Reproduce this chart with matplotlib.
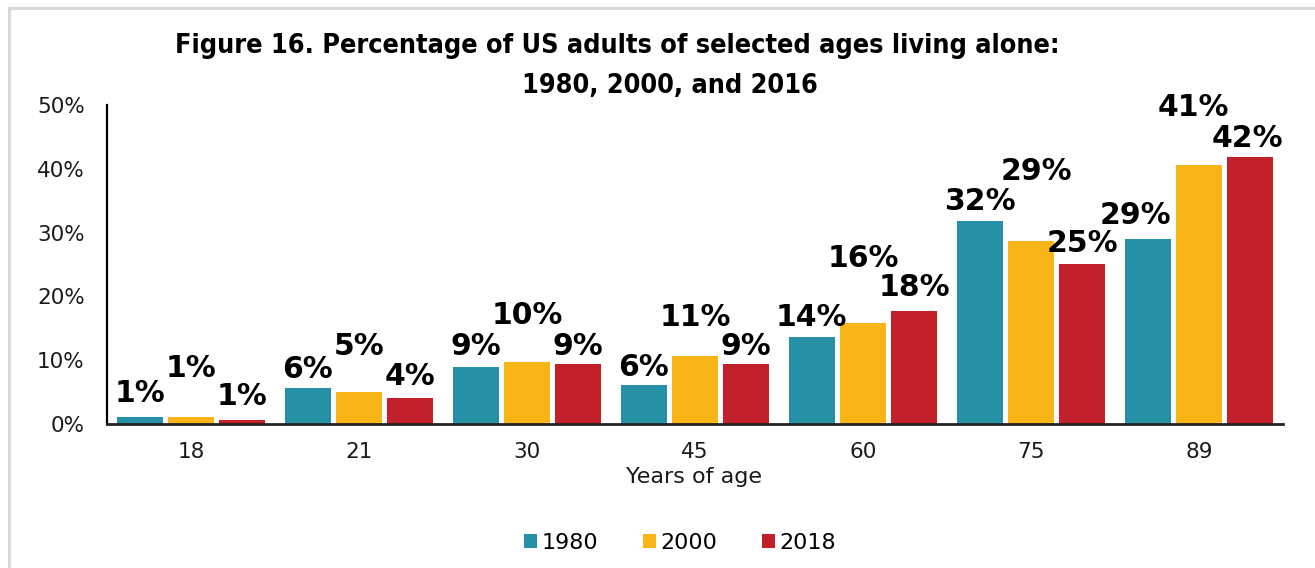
import matplotlib
matplotlib.use("Agg")
import matplotlib.pyplot as plt
from matplotlib.patches import Patch
from matplotlib.lines import Line2D
from matplotlib import font_manager as fm
import numpy as np

# Data: share of adults living alone, by age and year (%)
ages = ["18", "21", "30", "45", "60", "75", "89"]
years = ["1980", "2000", "2018"]
pct_1980 = [1.1, 5.6, 8.9, 6.1, 13.6, 31.8, 29.0]
pct_2000 = [1.1, 5.0, 9.7, 10.6, 15.8, 28.7, 40.6]
pct_2018 = [0.6, 4.1, 9.4, 9.4, 17.7, 25.1, 41.8]
y_ticks = [0, 10, 20, 30, 40, 50]

title_line1 = "Figure 16. Percentage of US adults of selected ages living alone:"
title_line2 = "1980, 2000, and 2016"
x_label = "Years of age"

colors = ["#2690A6", "#F9B417", "#C1202A"]

# label placement: lift above bar top (px) and sideways nudge (px)
lift = [
    [23, 19, 21, 18, 20, 20, 23],
    [48, 46, 47, 39, 65, 69, 57],
    [24, 21, 18, 18, 24, 20, 19],
]
nudge = [
    [0, 0, 0, 0, 0, 0, -12],
    [0, 0, 0, 0, 0, 5, -6],
    [0, 0, 0, 0, 0, 0, -3],
]


def pick_title_font():
    """Prefer a bold condensed face for the heading; fall back to Roboto bold."""
    for f in fm.fontManager.ttflist:
        name = f.name.lower()
        stretch = str(f.stretch).lower()
        bold = f.weight in (600, 700, 800, "bold", "semibold", "demibold")
        narrow = ("condensed" in name or "narrow" in name
                  or stretch in ("condensed", "semi-condensed", "extra-condensed"))
        if bold and narrow:
            return fm.FontProperties(fname=f.fname)
    return fm.FontProperties(family="Roboto", weight="bold")


W, H = 1315, 568
fig = plt.figure(figsize=(W / 100, H / 100), dpi=100)
fig.patch.set_facecolor("white")

# outer frame (top and left edges visible)
frame_c = "#D9D9D9"
fig.add_artist(Line2D([9 / W, 1.0], [1 - 8 / H, 1 - 8 / H], color=frame_c, lw=2.2,
                      transform=fig.transFigure))
fig.add_artist(Line2D([9 / W, 9 / W], [1 - 8 / H, 0.0], color=frame_c, lw=2.2,
                      transform=fig.transFigure))

ax = fig.add_axes([107 / W, 1 - 424 / H, 1176 / W, 319 / H])

x = np.arange(len(ages))
series = [pct_1980, pct_2000, pct_2018]
step = 0.305
width = 0.275
for i, (vals, col) in enumerate(zip(series, colors)):
    xs = x + (i - 1) * step
    bars = ax.bar(xs, vals, width=width, color=col, zorder=2, label=years[i])
    for j, (b, v) in enumerate(zip(bars, vals)):
        ax.annotate(f"{v:.0f}%",
                    xy=(b.get_x() + b.get_width() / 2, v),
                    xytext=(nudge[i][j] * 0.72, lift[i][j] * 0.72),
                    textcoords="offset points", ha="center", va="center",
                    fontsize=21.5, fontweight="bold", family="DejaVu Sans",
                    color="black", annotation_clip=False)

ax.set_xlim(-0.5, len(ages) - 0.5)
ax.set_ylim(0, 50)
ax.set_yticks(y_ticks)
ax.set_yticklabels([f"{t}%" for t in y_ticks])
ax.set_xticks(x)
ax.set_xticklabels(ages)
ax.tick_params(axis="both", length=0, labelsize=15.5, colors="#1a1a1a")
ax.tick_params(axis="y", pad=16)
ax.tick_params(axis="x", pad=13)
for s in ["top", "right"]:
    ax.spines[s].set_visible(False)
ax.spines["left"].set_linewidth(1.6)
ax.spines["left"].set_color("black")
ax.spines["bottom"].set_linewidth(2.0)
ax.spines["bottom"].set_color("#222222")
ax.spines["bottom"].set_zorder(3)

fig.text(694 / W, 1 - 477 / H, x_label, ha="center", va="center",
         fontsize=16, color="#1a1a1a")

# heading: two centred lines, sized so the first line spans ~887 px
tfont = pick_title_font()
t1 = fig.text(617 / W, 1 - 53 / H, title_line1, ha="center", va="baseline",
              fontsize=23, fontproperties=tfont)
t1.set_fontsize(23)
renderer = fig.canvas.get_renderer()
w1 = t1.get_window_extent(renderer).width
size = min(23 * 887 / w1, 26)
t1.set_fontsize(size)
t2 = fig.text(670 / W, 1 - 93 / H, title_line2, ha="center", va="baseline",
              fontproperties=tfont)
t2.set_fontsize(size)

handles = [Patch(facecolor=c, edgecolor="none", label=y) for c, y in zip(colors, years)]
fig.legend(handles=handles, loc="center", bbox_to_anchor=(680 / W, 1 - 543 / H),
           ncol=3, frameon=False, fontsize=16, handlelength=0.6, handleheight=0.6,
           handletextpad=0.2, columnspacing=2.0)

fig.savefig("out.png", dpi=100, facecolor="white")
